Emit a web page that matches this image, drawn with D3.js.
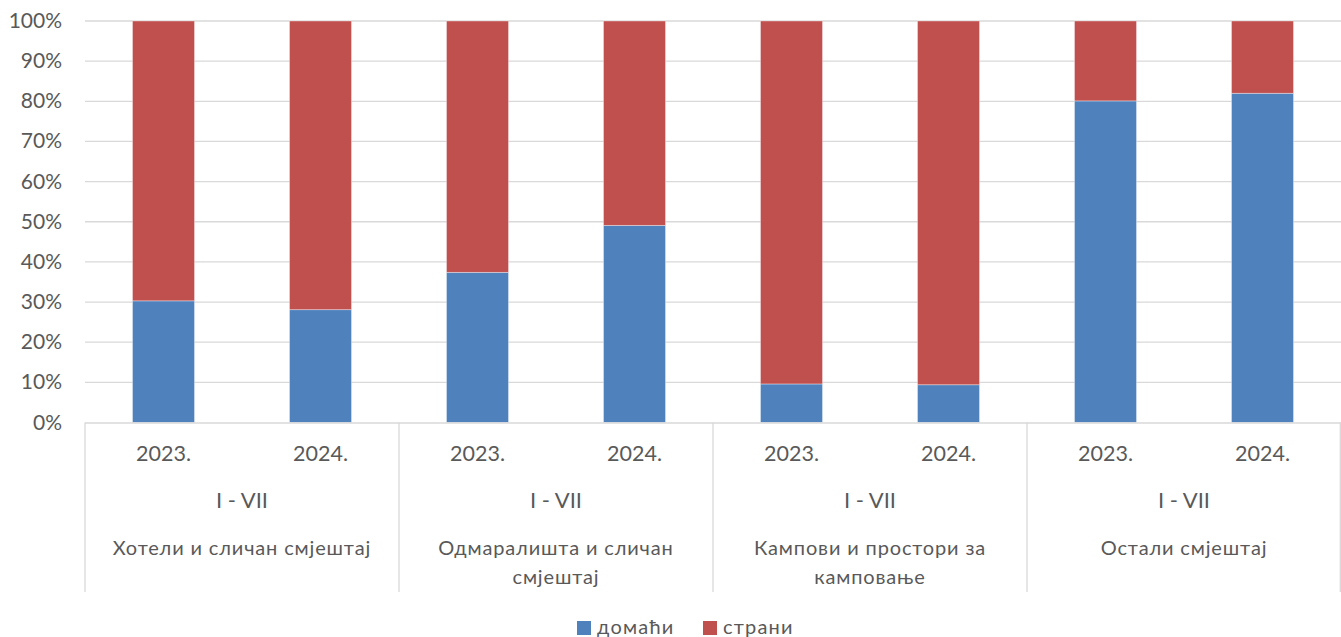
<!DOCTYPE html>
<html><head><meta charset="utf-8">
<script src="https://cdn.jsdelivr.net/npm/d3@7"></script>
<style>body{margin:0;background:#fff}svg{display:block}text{font-family:Lato,"Open Sans",sans-serif;fill:#595959}</style>
</head><body><svg id="c" width="1341" height="637"></svg>
<script>
const groups = ["Хотели и сличан смјештај","Одмаралишта и сличан смјештај","Кампови и простори за камповање","Остали смјештај"];
const groupLines = [["Хотели и сличан смјештај"],["Одмаралишта и сличан","смјештај"],["Кампови и простори за","камповање"],["Остали смјештај"]];
const years = ["2023.","2024."];
const period = "I - VII";
const domaci = [30.3,28.1,37.4,49.1,9.6,9.4,80.1,82.0];
const strani = domaci.map(d=>100-d);
const seriesNames = ["домаћи","страни"];
const colors = ["#4F81BD","#C0504D"];
const yTicks = [0,10,20,30,40,50,60,70,80,90,100];

const svg = d3.select("#c");
const L=85, R=1341, T=21, B=422.5;
const cats = [];
groups.forEach((g,gi)=>years.forEach((y,yi)=>cats.push({g:gi,y:yi,key:gi+"-"+yi})));
const x = d3.scaleBand().domain(cats.map(c=>c.key)).range([L,R]).paddingInner(0.605).paddingOuter(0.3025);
const y = d3.scaleLinear().domain([0,100]).range([B,T]);

svg.append("g").selectAll("line").data(yTicks.slice(1)).join("line")
  .attr("x1",L).attr("x2",R).attr("y1",d=>y(d)).attr("y2",d=>y(d))
  .attr("stroke","#d9d9d9").attr("stroke-width",1.3);
svg.append("g").selectAll("text").data(yTicks).join("text")
  .attr("x",62).attr("y",d=>y(d)+7).attr("text-anchor","end")
  .attr("font-size",21).text(d=>d+"%");

const stack = cats.map((c,i)=>({key:c.key, v:[domaci[i],strani[i]]}));
stack.forEach(s=>{
  let acc=0;
  s.v.forEach((v,si)=>{
    svg.append("rect").attr("x",x(s.key)).attr("width",x.bandwidth())
      .attr("y",y(acc+v)).attr("height",y(acc)-y(acc+v))
      .attr("fill",colors[si]).attr("stroke","rgba(255,255,255,0.45)").attr("stroke-width",0.8);
    acc+=v;
  });
});

const gW=(R-L)/groups.length;
svg.append("line").attr("x1",L).attr("x2",R).attr("y1",B+0.5).attr("y2",B+0.5).attr("stroke","#d9d9d9").attr("stroke-width",1.3);
for(let i=0;i<=groups.length;i++){
  const xx = Math.min(L+i*gW, R-0.7);
  svg.append("line").attr("x1",xx).attr("x2",xx).attr("y1",B).attr("y2",592).attr("stroke","#d9d9d9").attr("stroke-width",1.3);
}
svg.append("g").selectAll("text").data(cats).join("text")
  .attr("x",c=>x(c.key)+x.bandwidth()/2).attr("y",461).attr("text-anchor","middle")
  .attr("font-size",21.5).text(c=>years[c.y]);
groups.forEach((g,gi)=>{
  const cx=L+gi*gW+gW/2;
  svg.append("text").attr("x",cx).attr("y",508).attr("text-anchor","middle").attr("font-size",22).text(period);
  groupLines[gi].forEach((ln,li)=>{
    svg.append("text").attr("x",cx).attr("y",555+li*29).attr("text-anchor","middle").attr("font-size",20)
      .attr("letter-spacing",0.85).text(ln);
  });
});
const leg=[{x:577,t:seriesNames[0],c:colors[0]},{x:703,t:seriesNames[1],c:colors[1]}];
leg.forEach(l=>{
  svg.append("rect").attr("x",l.x).attr("y",621).attr("width",14).attr("height",14).attr("fill",l.c);
  svg.append("text").attr("x",l.x+20).attr("y",634).attr("font-size",20).attr("letter-spacing",1.2).text(l.t);
});
</script></body></html>
